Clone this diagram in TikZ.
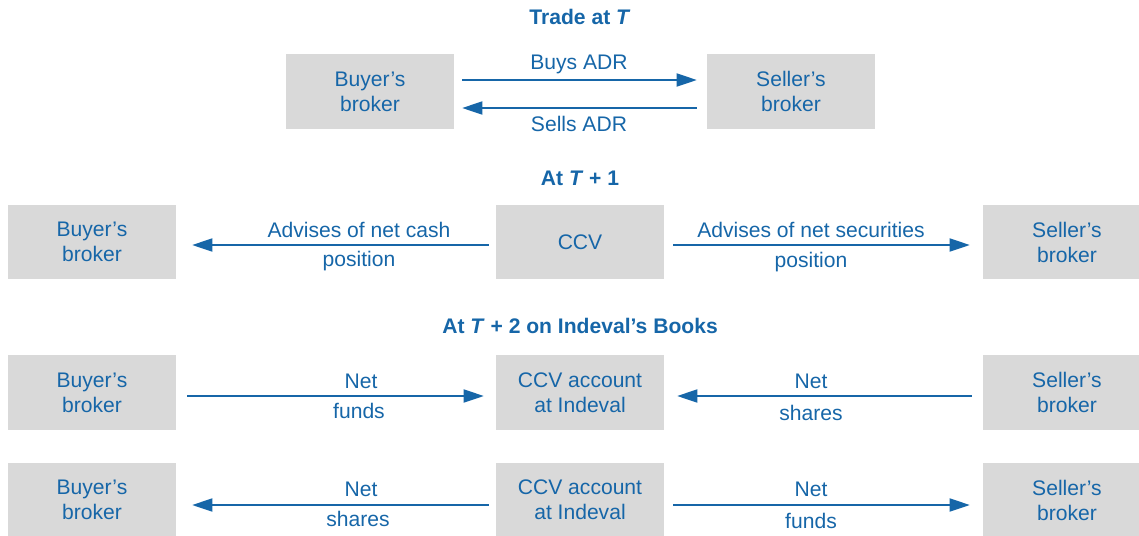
\documentclass[tikz,border=0pt]{standalone}
\usepackage{fontspec}
\setmainfont{Liberation Sans}
\usetikzlibrary{arrows.meta,calc}
\definecolor{adrblue}{HTML}{1666A8}
\definecolor{boxgray}{HTML}{D9D9D9}
\begin{document}
\begin{tikzpicture}[x=0.02cm,y=-0.02cm,
  every node/.style={text=adrblue,font=\fontsize{12}{14.2}\selectfont},
  broker/.style={fill=boxgray,minimum width=95.5pt,minimum height=42.5pt,align=center,inner sep=0pt},
  heading/.style={font=\fontsize{12}{14.2}\selectfont\bfseries},
  flow/.style={draw=adrblue,line width=0.85pt,-{Triangle[length=11.5pt,width=7.5pt]}}]
\useasboundingbox (0,0) rectangle (1139,535);

\path(580,17) node[heading](TradeT){Trade at \textit{T}} (370,91.5) node[broker](BuyerT){Buyer’s\\broker} (791,91.5) node[broker](SellerT){Seller’s\\broker} (579,64) node(BuysT){Buys ADR} (579,124) node(SellsT){Sells ADR};

\path(580,178) node[heading](AtOne){At \textit{T} + 1} (92,242) node[broker](BuyerOne){Buyer’s\\broker} (580,242) node[broker](CcvOne){CCV} (1067,242) node[broker](SellerOne){Seller’s\\broker} (359,230) node(CashOne){Advises of net cash} (359,261) node(CashPosOne){position} (811,230) node(SecOne){Advises of net securities} (811,262) node(SecPosOne){position};

\path(580,326) node[heading](AtTwo){At \textit{T} + 2 on Indeval’s Books} (92,392.5) node[broker](BuyerTwo){Buyer’s\\broker} (580,392.5) node[broker](CcvTwo){CCV account\\at Indeval} (1067,392.5) node[broker](SellerTwo){Seller’s\\broker} (361,381) node(NetFundsTwo){Net} (359,411) node(FundsTwo){funds} (811,381) node(NetSharesTwo){Net} (811,413) node(SharesTwo){shares};

\path(92,500) node[broker](BuyerThree){Buyer’s\\broker} (580,500) node[broker](CcvThree){CCV account\\at Indeval} (1067,500) node[broker](SellerThree){Seller’s\\broker} (361,489) node(NetSharesThree){Net} (358,519) node(SharesThree){shares} (811,489) node(NetFundsThree){Net} (811,521) node(FundsThree){funds};

\draw[flow] ($(BuyerT.east)+(8,-11.5)$) -- ($(SellerT.west)+(-10,-11.5)$);
\draw[flow] ($(SellerT.west)+(-10,16.5)$) -- ($(BuyerT.east)+(8,16.5)$);
\draw[flow] ($(CcvOne.west)+(-7,3)$) -- ($(BuyerOne.east)+(16,3)$);
\draw[flow] ($(CcvOne.east)+(9,3)$) -- ($(SellerOne.west)+(-13,3)$);
\draw[flow] ($(BuyerTwo.east)+(11,3.5)$) -- ($(CcvTwo.west)+(-12,3.5)$);
\draw[flow] ($(SellerTwo.west)+(-11,3.5)$) -- ($(CcvTwo.east)+(13,3.5)$);
\draw[flow] ($(CcvThree.west)+(-7,5)$) -- ($(BuyerThree.east)+(16,5)$);
\draw[flow] ($(CcvThree.east)+(9,5)$) -- ($(SellerThree.west)+(-13,5)$);
\end{tikzpicture}
\end{document}
